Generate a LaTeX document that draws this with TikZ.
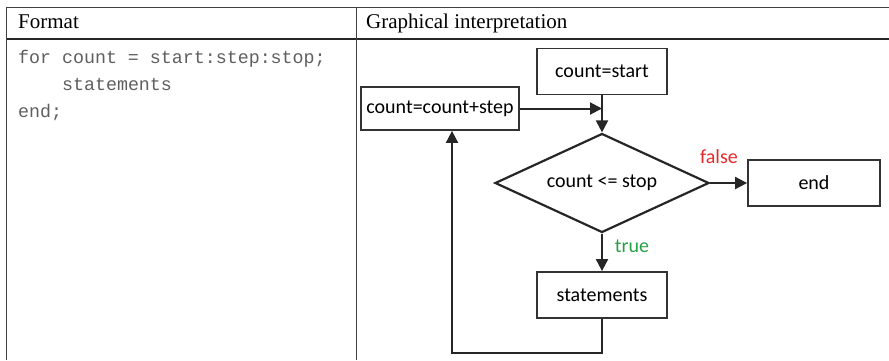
\documentclass[tikz,border=0pt]{standalone}
\usepackage{fontspec}
\setmainfont{Liberation Serif}
\newfontfamily\flowfont{Carlito}
\newfontfamily\codefont{Liberation Mono}
\usetikzlibrary{arrows.meta,shapes.geometric}
\definecolor{codegray}{RGB}{95,95,95}
\definecolor{falsered}{RGB}{230,40,40}
\definecolor{truegreen}{RGB}{40,160,70}
\tikzset{
  tline/.style={line width=1pt, draw=black!75},
  hline/.style={line width=2pt, draw=black!85},
  flowfontsize/.style={font=\flowfont\fontsize{20}{24}\selectfont},
  fbox/.style={draw=black!80, line width=1.8pt, minimum width=130pt, minimum height=46pt, inner sep=0pt, flowfontsize},
  fdia/.style={draw=black!85, diamond, aspect=2.16, line width=2.2pt, minimum width=214pt, minimum height=99pt, inner sep=0pt, flowfontsize},
  conn/.style={draw=black!85, line width=2pt},
  arr/.style={conn, -{Triangle[length=12pt,width=12pt]}},
  codetext/.style={anchor=base west, inner sep=0pt, text=codegray, font=\codefont\fontsize{18.3}{20}\selectfont},
  headtext/.style={anchor=base west, inner sep=0pt, font=\fontsize{21}{24}\selectfont},
  lbl/.style={inner sep=0pt, flowfontsize},
}
\begin{document}
\begin{tikzpicture}[x=1pt,y=-1pt]
\useasboundingbox (0,0) rectangle (889,360);
% table
\draw[tline] (6,7) -- (889,7);
\draw[hline] (6,39) -- (889,39);
\draw[tline] (6,7) -- (6,360);
\draw[tline] (356,7) -- (356,360);
\node[headtext] (h1) at (18,28) {Format};
\node[headtext] (h2) at (366,28) {Graphical interpretation};
\node[codetext] (c1) at (18,63) {for count = start:step:stop;};
\node[codetext] (c2) at (18,90) {\ \ \ \ statements};
\node[codetext] (c3) at (18,117) {end;};
% flowchart
\node[fbox] (start) at (602,71.5) {count=start};
\node[fbox, minimum width=158pt, minimum height=43pt] (step) at (440,108.5) {count=count+step};
\node[fdia] (cond) at (602,183) {count <= stop};
\node[fbox, minimum width=132pt] (endn) at (814,183) {end};
\node[fbox] (stm) at (602,295) {statements};
\coordinate (merge) at (602,108.5);
\coordinate (bl) at (602,353);
\coordinate (br) at (452,353);
\draw[arr] (step.east) -- (merge);
\draw[arr] (start.south) -- (cond.north);
\draw[arr] (cond.east) -- (endn.west);
\node[lbl, text=falsered] (flbl) at (719,157) {false};
\draw[arr] (cond.south) -- (stm.north);
\node[lbl, text=truegreen] (tlbl) at (632,246) {true};
\draw[conn, -{Triangle[length=12pt,width=12pt]}] (stm.south) -- (bl) -- (br) -- (step.south -| br);
\end{tikzpicture}
\end{document}
